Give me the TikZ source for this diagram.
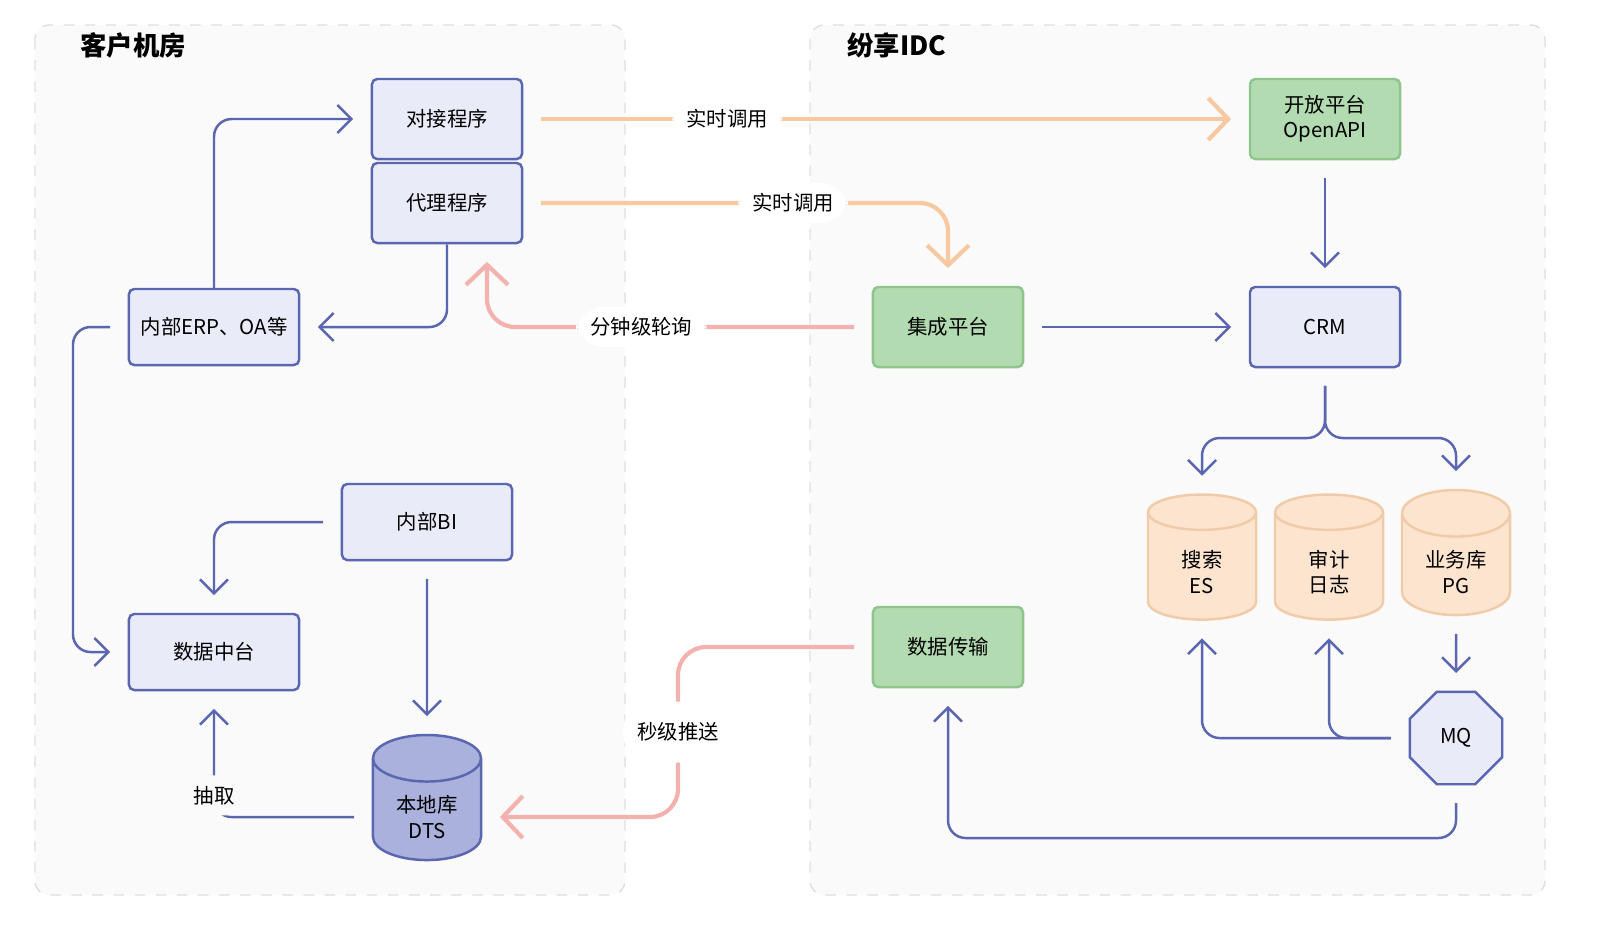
\documentclass[tikz,border=0pt]{standalone}
\usepackage{fontspec}
\setmainfont{Noto Sans CJK SC}
\usetikzlibrary{arrows.meta,shapes.geometric}
\definecolor{blueline}{HTML}{5A66B0}
\definecolor{bluefill}{HTML}{E9ECF8}
\definecolor{greenfill}{HTML}{B3DBB1}
\definecolor{greenline}{HTML}{8EC58C}
\definecolor{orangefill}{HTML}{FDE4CF}
\definecolor{orangeline}{HTML}{F0CBA8}
\definecolor{orangearrow}{HTML}{F8C9A0}
\definecolor{pinkarrow}{HTML}{F4B2AE}
\definecolor{dbfill}{HTML}{A9B1DC}
\definecolor{zonefill}{HTML}{FAFAFA}
\tikzset{
  box/.style={draw=blueline,fill=bluefill,line width=0.7pt,rounded corners=1.5pt,minimum width=1.5cm,minimum height=0.8cm,align=center},
  gbox/.style={box,draw=greenline,fill=greenfill},
  db/.style={cylinder,shape border rotate=90,aspect=0.55,draw=orangeline,fill=orangefill,line width=0.7pt,minimum width=1.08cm,minimum height=1.25cm,align=center},
  flow/.style={draw=blueline,line width=0.7pt,rounded corners=5pt,-{Straight Barb[length=1.4mm,width=2.8mm]}},
  call/.style={draw=orangearrow,line width=1.2pt,rounded corners=8pt,-{Straight Barb[length=2mm,width=4.2mm]}},
  poll/.style={call,draw=pinkarrow},
  lbl/.style={fill=white,inner xsep=4pt,inner ysep=3pt},
}
\begin{document}
\begin{tikzpicture}[x=0.01cm,y=-0.01cm,font=\fontsize{5.8}{7.2}\selectfont]
\useasboundingbox (0,0) rectangle (1604,932);
% zones
\draw[gray!25,dashed,fill=zonefill,rounded corners=4pt] (35,25) rectangle (625,895);
\draw[gray!25,dashed,fill=zonefill,rounded corners=4pt] (810,25) rectangle (1545,895);
\node[anchor=west,font=\fontsize{7.5}{9}\selectfont\bfseries] at (68,45) {客户机房};
\node[anchor=west,font=\fontsize{7.5}{9}\selectfont\bfseries] at (835,45) {纷享IDC};
% client side
\node[box] (duijie) at (447,119) {对接程序};
\node[box] (daili) at (447,203) {代理程序};
\node[box,minimum width=1.7cm,minimum height=0.76cm] (erp) at (214,327) {内部ERP、OA等};
\node[box,minimum width=1.7cm,minimum height=0.76cm] (bi) at (427,522) {内部BI};
\node[box,minimum width=1.7cm,minimum height=0.76cm] (zhongtai) at (214,652) {数据中台};
\node[db,draw=blueline,fill=dbfill] (dts) at (427,817) {本地库\\DTS};
% IDC side
\node[gbox] (openapi) at (1325,119) {开放平台\\OpenAPI};
\node[gbox] (jicheng) at (948,327) {集成平台};
\node[gbox] (chuanshu) at (948,647) {数据传输};
\node[box] (crm) at (1325,327) {CRM};
\node[db] (es) at (1202,572) {搜索\\ES};
\node[db] (audit) at (1329,572) {审计\\日志};
\node[db] (pg) at (1456,572) {业务库\\PG};
\node[regular polygon,regular polygon sides=8,draw=blueline,fill=bluefill,line width=0.7pt,minimum size=1cm,inner sep=0pt] (mq) at (1456,738) {MQ};
% client connectors
\draw[flow] (erp.north) |- ([xshift=-5pt]duijie.west);
\draw[flow] (daili.south) |- ([xshift=5pt]erp.east);
\draw[flow] ([xshift=-5pt]erp.west) -- (73,327) |- ([xshift=-5pt]zhongtai.west);
\draw[flow] ([xshift=-5pt]bi.west) -| ([yshift=5pt]zhongtai.north);
\draw[flow] ([yshift=-5pt]bi.south) -- ([yshift=5pt]dts.north);
\draw[flow] ([xshift=-5pt]dts.west) -| node[pos=0.6,lbl,fill=zonefill]{抽取} ([yshift=-5pt]zhongtai.south);
% calls across
\draw[call] ([xshift=5pt]duijie.east) -- node[lbl,pos=0.27]{实时调用} ([xshift=-5pt]openapi.west);
\draw[call] ([xshift=5pt]daili.east) -| node[lbl,pos=0.31]{实时调用} ([yshift=5pt]jicheng.north);
\draw[poll] ([xshift=-5pt]jicheng.west) -| node[lbl,pos=0.29]{分钟级轮询} ([yshift=-5pt]daili.south -| 487,0);
\draw[poll] ([xshift=-5pt]chuanshu.west) -| node[lbl,pos=0.75,inner ysep=6pt]{秒级推送} (678,817) -- ([xshift=5pt]dts.east);
% IDC connectors
\draw[flow] ([yshift=-5pt]openapi.south) -- ([yshift=5pt]crm.north);
\draw[flow] ([xshift=5pt]jicheng.east) -- ([xshift=-5pt]crm.west);
\draw[flow] ([yshift=-5pt]crm.south) -- (1325,438) -| ([yshift=5pt]es.north);
\draw[flow] ([yshift=-5pt]crm.south) -- (1325,438) -| ([yshift=5pt]pg.north);
\draw[flow] ([yshift=-5pt]pg.south) -- ([yshift=5pt]mq.north);
\draw[flow] ([xshift=-5pt]mq.west) -| ([yshift=-5pt]es.south);
\draw[flow] ([xshift=-5pt]mq.west) -| ([yshift=-5pt]audit.south);
\draw[flow] ([yshift=-5pt]mq.south) -- (1456,838) -| ([yshift=-5pt]chuanshu.south);
\end{tikzpicture}
\end{document}
